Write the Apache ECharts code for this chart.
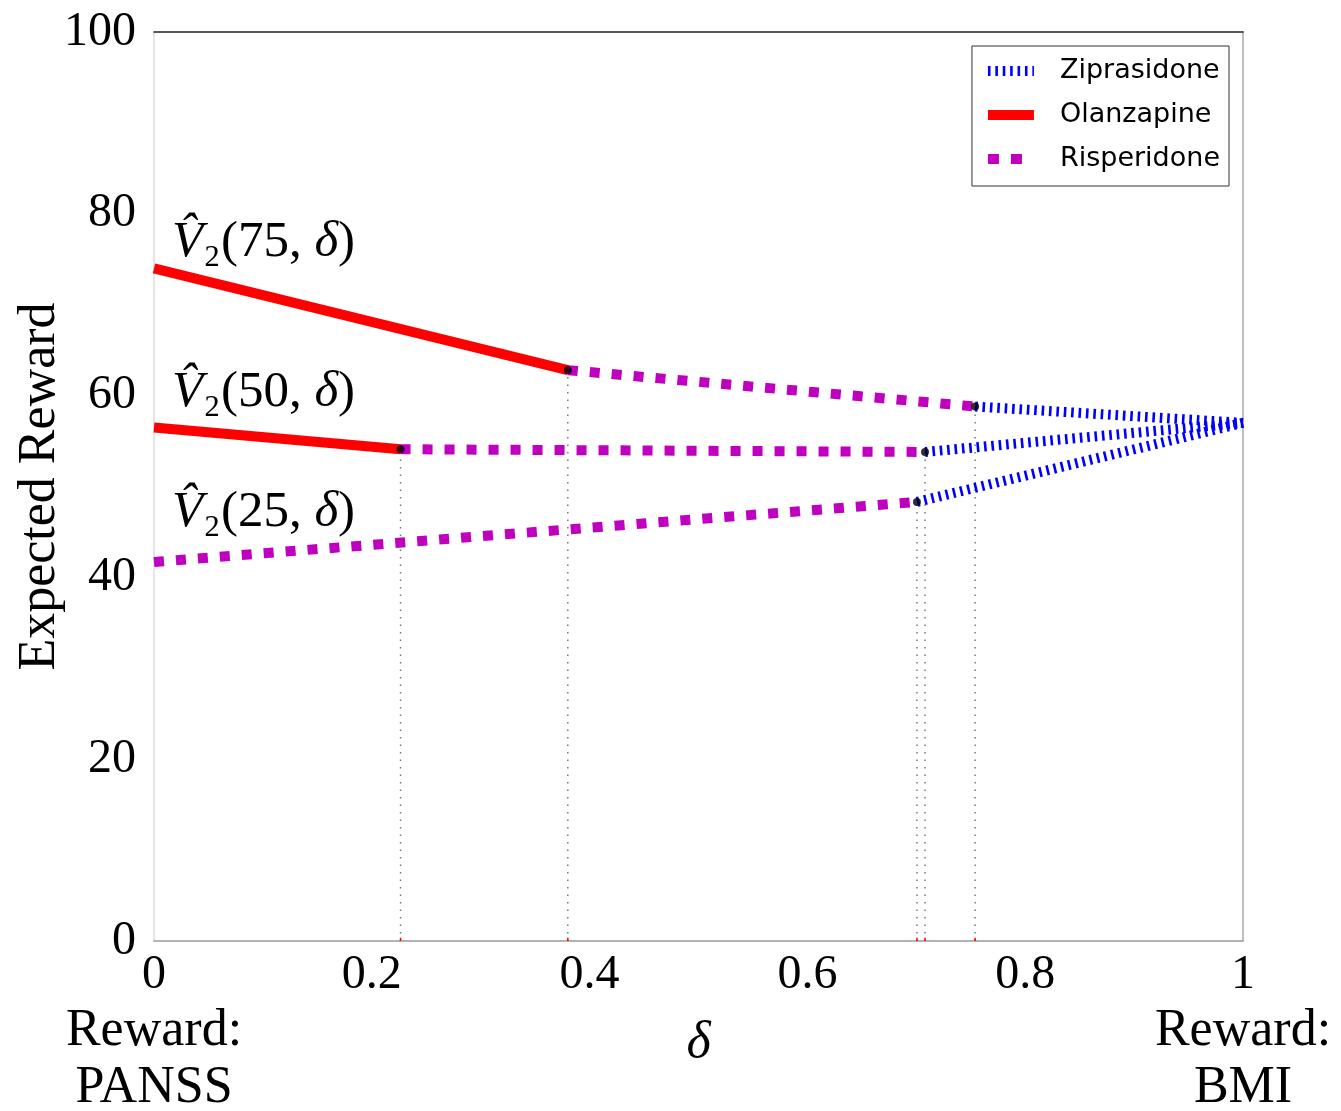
<!DOCTYPE html>
<html><head><meta charset="utf-8">
<script src="https://cdn.jsdelivr.net/npm/echarts@6/dist/echarts.min.js"></script>
<style>html,body{margin:0;padding:0;background:#fff}#c{width:1341px;height:1111px}</style>
</head><body><div id="c"></div>
<script>
// ---- data ----
const xTicks = [0, 0.2, 0.4, 0.6, 0.8, 1];
const yTicks = [0, 20, 40, 60, 80, 100];
const v75Olanzapine   = [[0, 74.0], [0.380, 62.8]];
const v75Risperidone  = [[0.380, 62.8], [0.754, 58.8]];
const v75Ziprasidone  = [[0.754, 58.8], [1, 57.0]];
const v50Olanzapine   = [[0, 56.5], [0.2264, 54.1]];
const v50Risperidone  = [[0.2264, 54.1], [0.708, 53.8]];
const v50Ziprasidone  = [[0.708, 53.8], [1, 57.0]];
const v25Risperidone  = [[0, 41.7], [0.7006, 48.3]];
const v25Ziprasidone  = [[0.7006, 48.3], [1, 57.0]];
const switchPoints = [[0.2264, 54.1], [0.380, 62.8], [0.7006, 48.3], [0.708, 53.8], [0.754, 58.8]];
const curveNames = ['75', '50', '25'];
const curveLabelAnchors = [[0.0165, 76.8], [0.0165, 60.3], [0.0165, 47.1]];
const legendNames = ['Ziprasidone', 'Olanzapine', 'Risperidone'];

const SERIF = 'Liberation Serif';
const chart = echarts.init(document.getElementById('c'), null, {renderer: 'canvas'});

const styles = {
  Olanzapine:  {color: '#ff0000', width: 10, type: 'solid', legendType: 'solid'},
  Risperidone: {color: '#bf00bf', width: 10, type: [10, 12], legendType: [11, 12]},
  Ziprasidone: {color: '#0000ff', width: 10, type: [2.6, 4.8], legendType: [2.6, 4.8]}
};
function seg(name, data) {
  const s = styles[name];
  return {
    type: 'line', name: name, data: data, symbol: 'none', showSymbol: false,
    lineStyle: {color: s.color, width: s.width, type: s.type, cap: 'butt'},
    itemStyle: {color: s.color},
    z: 3, silent: true, animation: false
  };
}
const series = [
  seg('Ziprasidone', v75Ziprasidone), seg('Ziprasidone', v50Ziprasidone), seg('Ziprasidone', v25Ziprasidone),
  seg('Olanzapine', v75Olanzapine), seg('Olanzapine', v50Olanzapine),
  seg('Risperidone', v75Risperidone), seg('Risperidone', v50Risperidone), seg('Risperidone', v25Risperidone)
];
switchPoints.forEach(function (p, i) {
  series.push({
    type: 'line', name: 'guide' + i, data: [[p[0], 0], p], symbol: 'none',
    lineStyle: {color: '#777', width: 1.5, type: [1.5, 6]}, z: 1, silent: true, animation: false
  });
  series.push({
    type: 'line', name: 'tick' + i, data: [[p[0], 0], [p[0], 0.35]], symbol: 'none',
    lineStyle: {color: '#ff0000', width: 1.5}, z: 1, silent: true, animation: false
  });
});
series.push({
  type: 'scatter', name: 'switch', data: switchPoints, symbol: 'circle', symbolSize: 8,
  itemStyle: {color: '#000'}, z: 6, silent: true, animation: false
});

function fmtX(v) {
  const r = parseFloat(v.toFixed(1));
  if (r === 0) return '{n|0}\n{w|Reward:}\n{w|PANSS}';
  if (r === 1) return '{n|1}\n{w|Reward:}\n{w|BMI}';
  return '{n|' + r + '}';
}

const legendData = legendNames.map(function (n) {
  const s = styles[n];
  return {name: n, lineStyle: {color: s.color, width: 10, type: s.legendType, cap: 'butt'}, itemStyle: {opacity: 0}};
});

chart.setOption({
  animation: false,
  backgroundColor: '#fff',
  grid: {left: 154, right: 98, top: 32, bottom: 170, outerBoundsMode: 'none', containLabel: false},
  legend: {
    data: legendData, orient: 'vertical', right: 112, top: 46,
    itemWidth: 46, itemHeight: 14, itemGap: 14, padding: [10, 9, 12, 11],
    borderColor: '#333', borderWidth: 1, backgroundColor: '#fff',
    itemStyle: {opacity: 0},
    textStyle: {fontFamily: 'DejaVu Sans', fontSize: 27, color: '#000', lineHeight: 30, padding: [0, 0, 0, 21]},
    selectedMode: false
  },
  xAxis: [{
    type: 'value', min: 0, max: 1, interval: 0.2, position: 'bottom',
    axisLine: {show: true, onZero: false, lineStyle: {color: '#999', width: 1.5}},
    axisTick: {show: false}, splitLine: {show: false},
    axisLabel: {
      margin: 6, formatter: fmtX, color: '#000', hideOverlap: false,
      rich: {
        n: {fontFamily: SERIF, fontSize: 48, lineHeight: 56, color: '#000'},
        w: {fontFamily: SERIF, fontSize: 52, lineHeight: 57, color: '#000'}
      }
    },
    name: 'δ', nameLocation: 'middle', nameGap: 76, nameMoveOverlap: false,
    nameTextStyle: {fontFamily: SERIF, fontStyle: 'italic', fontSize: 52, color: '#000'}
  }, {
    type: 'value', min: 0, max: 1, position: 'top',
    axisLine: {show: true, onZero: false, lineStyle: {color: '#222', width: 1.5}},
    axisTick: {show: false}, axisLabel: {show: false}, splitLine: {show: false}
  }],
  yAxis: [{
    type: 'value', min: 0, max: 100, interval: 20, position: 'left',
    axisLine: {show: true, onZero: false, lineStyle: {color: '#ddd', width: 1.5}},
    axisTick: {show: false}, splitLine: {show: false},
    axisLabel: {margin: 18, fontFamily: SERIF, fontSize: 48, color: '#000'},
    name: 'Expected Reward', nameLocation: 'middle', nameGap: 88, nameRotate: 90, nameMoveOverlap: false,
    nameTextStyle: {fontFamily: SERIF, fontSize: 52, color: '#000'}
  }, {
    type: 'value', min: 0, max: 100, position: 'right',
    axisLine: {show: true, onZero: false, lineStyle: {color: '#aaa', width: 1.5}},
    axisTick: {show: false}, axisLabel: {show: false}, splitLine: {show: false}
  }],
  series: series
});

const rich = {
  v: {fontFamily: SERIF, fontStyle: 'italic', fontSize: 51, fill: '#000'},
  s: {fontFamily: SERIF, fontSize: 51, fill: '#000'},
  t: {fontFamily: SERIF, fontSize: 51, fill: '#000'},
  d: {fontFamily: SERIF, fontStyle: 'italic', fontSize: 51, fill: '#000'}
};
const graphics = curveNames.map(function (n, i) {
  const px = chart.convertToPixel({gridIndex: 0}, curveLabelAnchors[i]);
  return {
    type: 'text', x: px[0], y: px[1], z: 10, silent: true,
    style: {
      text: '{v|V\u0302}{s|\u2082}{t|(' + n + ', }{d|δ}{t|)}',
      rich: rich, verticalAlign: 'middle', align: 'left', fill: '#000'
    }
  };
});
chart.setOption({graphic: graphics});
</script>
</body></html>
